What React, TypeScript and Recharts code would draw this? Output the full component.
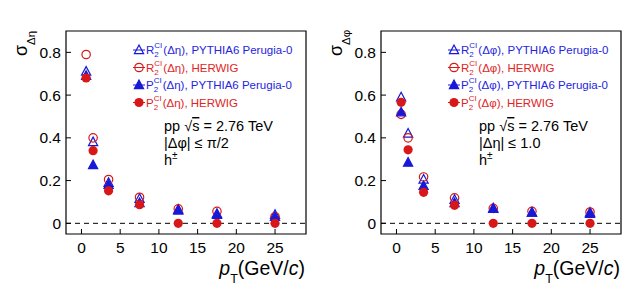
import React from "react";
import { ScatterChart, Scatter, XAxis, YAxis, ReferenceLine, ReferenceArea } from "recharts";

// pT bin centres (GeV/c)
const ptBins = [0.6, 1.5, 3.5, 7.5, 12.5, 17.5, 25];
const xTicks = [0, 5, 10, 15, 20, 25];
const yTicks = [0, 0.2, 0.4, 0.6, 0.8];

// Left panel: sigma_Δη
const etaR2Pythia = [0.71, 0.38, 0.19, 0.115, 0.065, 0.045, 0.04];
const etaR2Herwig = [0.79, 0.4, 0.205, 0.122, 0.068, 0.056, 0.031];
const etaP2Pythia = [0.69, 0.273, 0.18, 0.095, 0.06, 0.04, 0.03];
const etaP2Herwig = [0.68, 0.34, 0.152, 0.087, 0.0, 0.0, 0.0];

// Right panel: sigma_Δφ
const phiR2Pythia = [0.59, 0.42, 0.205, 0.11, 0.07, 0.05, 0.05];
const phiR2Herwig = [0.51, 0.4, 0.217, 0.119, 0.07, 0.056, 0.053];
const phiP2Pythia = [0.52, 0.284, 0.175, 0.095, 0.068, 0.05, 0.045];
const phiP2Herwig = [0.566, 0.344, 0.145, 0.084, 0.0, 0.0, 0.0];

const BLUE = "#1818d8";
const RED = "#d81818";
const BLUE_TXT = "#2424e0";
const RED_TXT = "#e02424";
const FONT = '"Liberation Sans", Arial, Helvetica, sans-serif';

type Kind = "openTri" | "openCirc" | "fillTri" | "fillCirc";

const Marker = ({ cx, cy, kind }: { cx: number; cy: number; kind: Kind }) => {
  if (cx == null || cy == null) return null;
  const color = kind === "openTri" || kind === "fillTri" ? BLUE : RED;
  if (kind === "openTri" || kind === "fillTri") {
    const pts = `${cx},${cy - 5} ${cx - 4.6},${cy + 3.6} ${cx + 4.6},${cy + 3.6}`;
    return (
      <polygon
        points={pts}
        fill={kind === "fillTri" ? color : "none"}
        stroke={color}
        strokeWidth={1.2}
      />
    );
  }
  return kind === "fillCirc" ? (
    <circle cx={cx} cy={cy} r={4.6} fill={color} />
  ) : (
    <circle cx={cx} cy={cy} r={4.2} fill="none" stroke={color} strokeWidth={1.2} />
  );
};

const XTick = (props: any) => {
  const { x, y, payload } = props;
  return (
    <g>
      <line x1={x} y1={y} x2={x} y2={y - 5} stroke="#000" strokeWidth={1} />
      <text x={x} y={y + 18.5} textAnchor="middle" fontSize={15.5} fill="#000" fontFamily={FONT}>
        {payload.value}
      </text>
    </g>
  );
};

const YTick = (props: any) => {
  const { x, y, payload } = props;
  return (
    <g>
      <line x1={x} y1={y} x2={x + 5} y2={y} stroke="#000" strokeWidth={1} />
      <text x={x - 5} y={y + 5.5} textAnchor="end" fontSize={15.5} fill="#000" fontFamily={FONT}>
        {payload.value}
      </text>
    </g>
  );
};

const toData = (vals: number[]) => ptBins.map((x, i) => ({ x, y: vals[i] }));

type PanelProps = {
  left: number;
  varSym: string;
  cutText: string;
  r2Pythia: number[];
  r2Herwig: number[];
  p2Pythia: number[];
  p2Herwig: number[];
};

const LegendRow = ({
  y,
  kind,
  letter,
  varSym,
  gen,
  color,
}: {
  y: number;
  kind: Kind;
  letter: string;
  varSym: string;
  gen: string;
  color: string;
}) => {
  const mColor = kind === "openTri" || kind === "fillTri" ? BLUE : RED;
  const x0 = 146;
  const lw = letter === "R" ? 8.3 : 7.7;
  return (
    <g>
      <line x1={133} y1={y - 4} x2={145} y2={y - 4} stroke={mColor} strokeWidth={1} />
      <Marker cx={139} cy={y - 4} kind={kind} />
      <text y={y} fill={color} fontSize={11.5} fontFamily={FONT}>
        <tspan x={x0}>{letter}</tspan>
        <tspan x={x0 + lw} dy={3} fontSize={8}>2</tspan>
        <tspan x={x0 + lw} dy={-9} fontSize={8}>CI</tspan>
        <tspan x={x0 + lw + 9} dy={6}>{`(Δ${varSym}), ${gen}`}</tspan>
      </text>
    </g>
  );
};

const Panel = ({ left, varSym, cutText, r2Pythia, r2Herwig, p2Pythia, p2Herwig }: PanelProps) => (
  <div style={{ position: "absolute", left, top: 0, width: 315, height: 296 }}>
    <ScatterChart width={315} height={296} margin={{ top: 31, right: 9, bottom: 0, left: 0 }}>
      <XAxis
        type="number"
        dataKey="x"
        domain={[-2, 29]}
        ticks={xTicks}
        interval={0}
        height={62}
        axisLine={false}
        tickLine={false}
        tickSize={0}
        tickMargin={0}
        tick={XTick}
        allowDataOverflow
      />
      <YAxis
        type="number"
        dataKey="y"
        domain={[-0.05, 0.9]}
        ticks={yTicks}
        interval={0}
        width={66}
        axisLine={false}
        tickLine={false}
        tickSize={0}
        tickMargin={0}
        tick={YTick}
        allowDataOverflow
      />
      <ReferenceArea
        x1={-2}
        x2={29}
        y1={-0.05}
        y2={0.9}
        fill="none"
        stroke="#000"
        strokeWidth={1.2}
        fillOpacity={0}
      />
      <ReferenceLine y={0} stroke="#000" strokeWidth={1} strokeDasharray="5 4" />
      <Scatter
        name="R2 PYTHIA"
        data={toData(r2Pythia)}
        isAnimationActive={false}
        shape={(p: any) => <Marker cx={p.cx} cy={p.cy} kind="openTri" />}
      />
      <Scatter
        name="R2 HERWIG"
        data={toData(r2Herwig)}
        isAnimationActive={false}
        shape={(p: any) => <Marker cx={p.cx} cy={p.cy} kind="openCirc" />}
      />
      <Scatter
        name="P2 PYTHIA"
        data={toData(p2Pythia)}
        isAnimationActive={false}
        shape={(p: any) => <Marker cx={p.cx} cy={p.cy} kind="fillTri" />}
      />
      <Scatter
        name="P2 HERWIG"
        data={toData(p2Herwig)}
        isAnimationActive={false}
        shape={(p: any) => <Marker cx={p.cx} cy={p.cy} kind="fillCirc" />}
      />
    </ScatterChart>
    <svg
      width={315}
      height={296}
      style={{ position: "absolute", left: 0, top: 0, pointerEvents: "none" }}
    >
      <LegendRow y={54} kind="openTri" letter="R" varSym={varSym} gen="PYTHIA6 Perugia-0" color={BLUE_TXT} />
      <LegendRow y={71.5} kind="openCirc" letter="R" varSym={varSym} gen="HERWIG" color={RED_TXT} />
      <LegendRow y={89} kind="fillTri" letter="P" varSym={varSym} gen="PYTHIA6 Perugia-0" color={BLUE_TXT} />
      <LegendRow y={106.5} kind="fillCirc" letter="P" varSym={varSym} gen="HERWIG" color={RED_TXT} />

      <text fontFamily={FONT} fontSize={14.5} fill="#000">
        <tspan x={164} y={131}>pp </tspan>
        <tspan>√</tspan>
        <tspan style={{ textDecoration: "overline" }}>s</tspan>
        <tspan> = 2.76 TeV</tspan>
        <tspan x={164} y={148}>{cutText}</tspan>
        <tspan x={164} y={165}>h</tspan>
        <tspan dy={-6} fontSize={10}>±</tspan>
      </text>

      <text transform="translate(27,56) rotate(-90)" fontFamily={FONT} fill="#000">
        <tspan fontSize={18}>σ</tspan>
        <tspan fontSize={11.5} dy={8}>{`Δ${varSym}`}</tspan>
      </text>

      <text x={305} y={274.5} textAnchor="end" fontFamily={FONT} fontSize={19.5} fill="#000">
        <tspan fontStyle="italic">p</tspan>
        <tspan fontSize={12.5} dy={8}>T</tspan>
        <tspan dy={-8}>(GeV/</tspan>
        <tspan fontStyle="italic">c</tspan>
        <tspan>)</tspan>
      </text>
    </svg>
  </div>
);

export default function App() {
  return (
    <div
      style={{
        position: "absolute",
        left: 0,
        top: 0,
        width: 630,
        height: 296,
        background: "#fff",
        fontFamily: FONT,
      }}
    >
      <Panel
        left={0}
        varSym="η"
        cutText="|Δφ| ≤ π/2"
        r2Pythia={etaR2Pythia}
        r2Herwig={etaR2Herwig}
        p2Pythia={etaP2Pythia}
        p2Herwig={etaP2Herwig}
      />
      <Panel
        left={315}
        varSym="φ"
        cutText="|Δη| ≤ 1.0"
        r2Pythia={phiR2Pythia}
        r2Herwig={phiR2Herwig}
        p2Pythia={phiP2Pythia}
        p2Herwig={phiP2Herwig}
      />
    </div>
  );
}
